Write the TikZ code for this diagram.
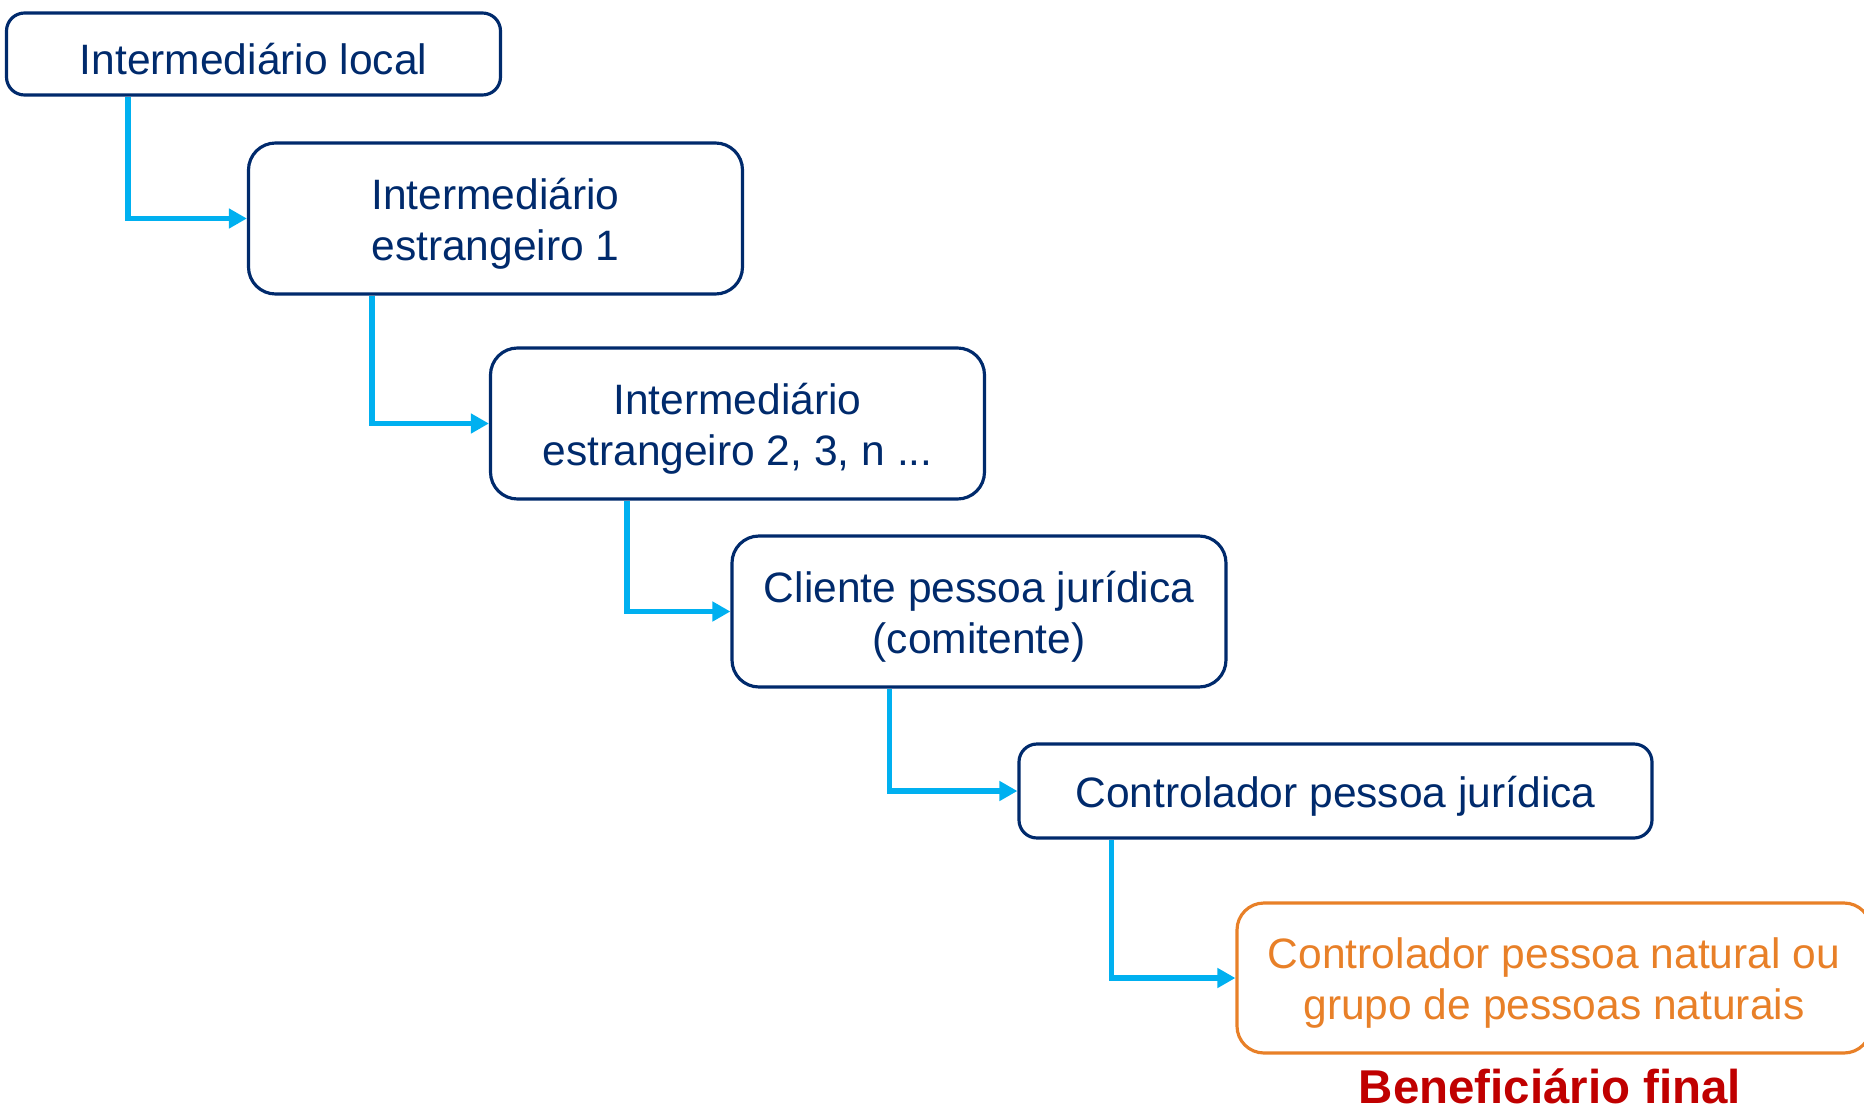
\documentclass[tikz,border=0pt]{standalone}
\usepackage{fontspec}
\setmainfont{Liberation Sans}
\usepackage{tikz}
\usetikzlibrary{shapes,arrows.meta,positioning}
\definecolor{navy}{RGB}{0,42,108}
\definecolor{lightblue}{RGB}{0,176,240}
\definecolor{orng}{RGB}{232,128,40}
\definecolor{darkred}{RGB}{192,0,0}
\newcommand{\up}{\rule{0pt}{0.41cm}}

\begin{document}
\begin{tikzpicture}[
	box/.style={draw=navy, line width=0.9pt, text=navy, rounded corners=0.27cm, align=center, inner sep=0pt, minimum width=4.94cm, minimum height=1.51cm, font=\fontsize{12.1}{14.5}\selectfont},
	conn/.style={lightblue, line width=1.5pt, -{Triangle[length=0.18cm,width=0.19cm]}}
	]
	\useasboundingbox (0,0) rectangle (18.64,-11.08);
	
	\node[box, minimum height=0.82cm, rounded corners=0.18cm] (1) at (2.535,-0.54) {\up Intermediário local};
	\node[box] (2) at (4.955,-2.185) {\up Intermediário\\estrangeiro 1};
	\node[box] (3) at (7.375,-4.235) {\up Intermediário\\estrangeiro 2, 3, n ...};
	\node[box] (4) at (9.79,-6.115) {\up Cliente pessoa jurídica\\(comitente)};
	\node[box, minimum width=6.33cm, minimum height=0.94cm, rounded corners=0.18cm] (5) at (13.355,-7.91) {\up Controlador pessoa jurídica};
	\node[box, draw=orng, text=orng, minimum width=6.34cm, minimum height=1.50cm] (6) at (15.54,-9.78) {\up Controlador pessoa natural ou\\grupo de pessoas naturais};
	\node[anchor=base, text=darkred, font=\bfseries\fontsize{13.5}{16}\selectfont] (7) at (15.50,-11.03) {Beneficiário final};
	
	\draw[conn] ([xshift=1.23cm]1.south west) |- (2.west);
	\draw[conn] ([xshift=1.25cm]2.south west) |- (3.west);
	\draw[conn] ([xshift=1.38cm]3.south west) |- (4.west);
	\draw[conn] ([xshift=1.59cm]4.south west) |- (5.west);
	\draw[conn] ([xshift=0.94cm]5.south west) |- (6.west);
\end{tikzpicture}
\end{document}
